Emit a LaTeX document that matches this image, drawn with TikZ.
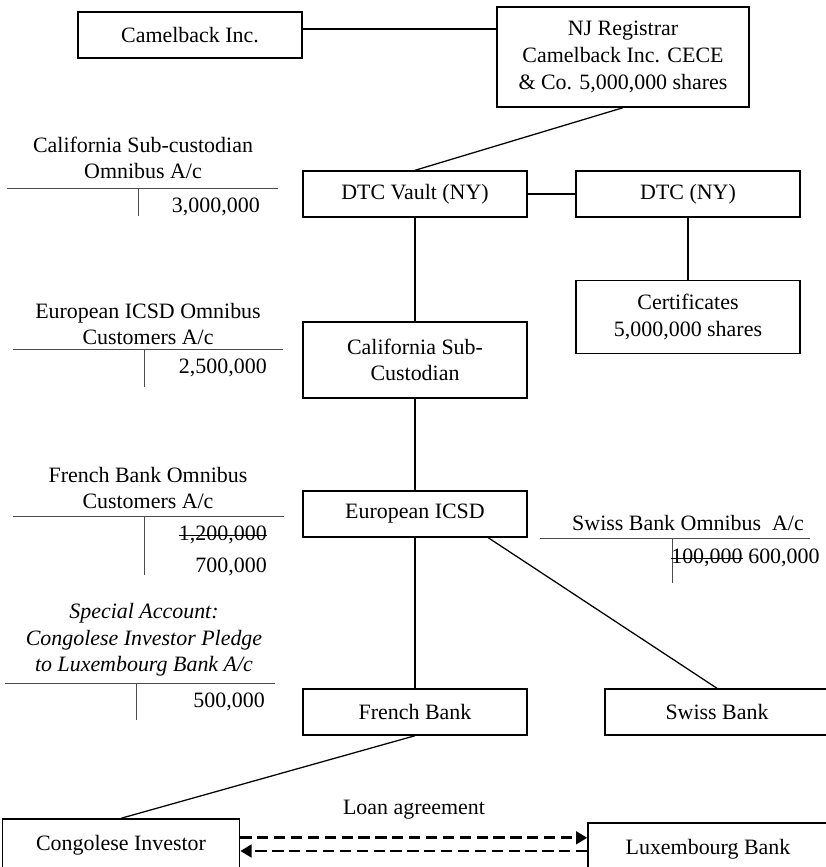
\documentclass[tikz,border=0pt]{standalone}
\usepackage{fontspec}
\setmainfont{Liberation Serif}
\usetikzlibrary{arrows.meta}

\tikzset{
	box/.style={draw, line width=1pt, minimum width=5.6cm, minimum height=1.15cm, align=center, inner sep=0pt},
	link/.style={line width=0.9pt},
	tline/.style={line width=0.7pt, black!70},
	loan/.style={line width=1.9pt, dash pattern=on 8pt off 4pt},
	amt/.style={inner sep=0pt},
}

\begin{document}
\begin{tikzpicture}[x=0.025cm, y=-0.025cm, font=\fontsize{15.6}{18.9}\selectfont]
		\useasboundingbox (0,0) rectangle (825,867);
	
		% chain of custody
		\node[box] (cam) at (190,35) {Camelback Inc.};
		\node[box, minimum width=6.3cm, minimum height=2.5cm] (nj) at (623,57) {NJ Registrar\\Camelback Inc. CECE\\\& Co. 5,000,000 shares};
		\node[box] (vault) at (415,194) {DTC Vault (NY)};
		\node[box] (dtc) at (688,194) {DTC (NY)};
		\node[box, minimum height=1.83cm] (cert) at (688,317) {Certificates\\5,000,000 shares};
		\node[box, minimum height=1.9cm] (calsub) at (415,360) {California Sub-\\Custodian};
		\node[box] (icsd) at (415,514) {European ICSD};
		\node[box] (french) at (415,712) {French Bank};
		\node[box] (swiss) at (717,712) {Swiss Bank};
		\node[box, minimum width=5.93cm, minimum height=1.3cm] (congo) at (121,845) {Congolese Investor};
		\node[box, minimum width=6cm, minimum height=1.3cm] (lux) at (708,849) {Luxembourg Bank};
	
		\draw[link] ([yshift=0.15cm]cam.east) -- ([yshift=0.15cm]cam.east -| nj.west);
		\draw[link] (nj.south) -- (vault.north);
		\draw[link] (vault.east) -- (dtc.west);
		\draw[link] (dtc.south) -- (cert.north);
		\draw[link] (vault.south) -- (calsub.north);
		\draw[link] (calsub.south) -- (icsd.north);
		\draw[link] (icsd.south) -- (french.north);
		\draw[link] ([xshift=1.83cm]icsd.south) -- (swiss.north);
		\draw[link] (french.south) -- (congo.north);
	
		% loan agreement
		\node (loanlbl) at (414,810) {Loan agreement};
		\draw[loan, -{Triangle[length=8pt, width=9pt]}] ([yshift=0.18cm]congo.east) -- ([yshift=0.18cm]congo.east -| lux.west);
		\draw[loan, -{Triangle[length=8pt, width=9pt]}] ([yshift=-0.15cm]congo.east -| lux.west) -- ([yshift=-0.15cm]congo.east);
	
		% T-accounts
		\node[align=center] (acal) at (143,158) {California Sub-custodian\\Omnibus A/c};
		\draw[tline] (7,188) -- (278,188) (138,188) -- (138,216);
		\node[amt, anchor=east] (acalcr) at (260,207) {3,000,000};
	
		\node[align=center] (aicsd) at (148,324) {European ICSD Omnibus\\Customers A/c};
		\draw[tline] (13,349) -- (283,349) (144,349) -- (144,387);
		\node[amt, anchor=east] (aicsdcr) at (267,368) {2,500,000};
	
		\node[align=center] (afrench) at (148,488) {French Bank Omnibus\\Customers A/c};
		\draw[tline] (13,516) -- (284,516) (144,516) -- (144,575);
		\node[amt, anchor=east] (afrenchold) at (267,535) {1,200,000};
		\draw (afrenchold.west) -- (afrenchold.east);
		\node[amt, anchor=east] (afrenchcr) at (267,567) {700,000};
	
		\node[align=center, font=\fontsize{15.6}{18.9}\selectfont\itshape] (apledge) at (144,640) {Special Account:\\Congolese Investor Pledge\\to Luxembourg Bank A/c};
		\draw[tline] (5,683) -- (275,683) (136,683) -- (136,720);
		\node[amt, anchor=east] (apledgecr) at (265,702) {500,000};
	
		\node (aswiss) at (688,523) {Swiss Bank Omnibus\ \ A/c};
		\draw[tline] (540,538) -- (810,538) (672,538) -- (672,583);
		\node[amt, anchor=west] (aswissold) at (671,558) {100,000};
		\draw (aswissold.west) -- (aswissold.east);
		\node[amt, anchor=west] (aswisscr) at (748,558) {600,000};
	\end{tikzpicture}
\end{document}
